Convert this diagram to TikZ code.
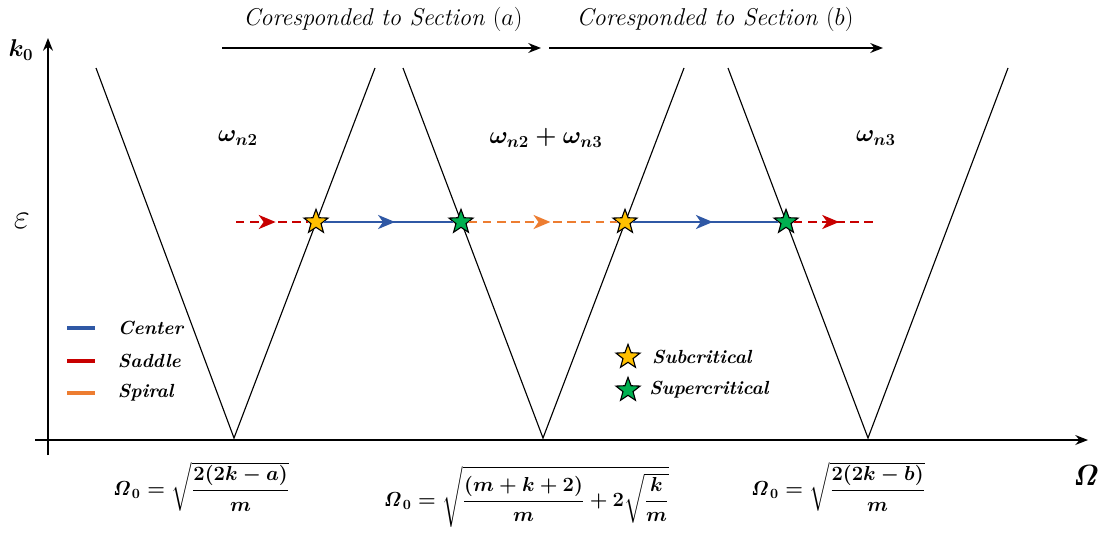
\documentclass[tikz,border=0pt]{standalone}
\usepackage{amsmath,amssymb,bm}
\usetikzlibrary{arrows.meta,positioning,shapes.geometric,decorations.markings}

\definecolor{centerblue}{RGB}{47,88,165}
\definecolor{saddlered}{RGB}{200,0,0}
\definecolor{spiralorange}{RGB}{237,125,49}
\definecolor{subyellow}{RGB}{255,192,0}
\definecolor{supgreen}{RGB}{0,176,80}

\begin{document}
\begin{tikzpicture}[
  x=0.025cm, y=-0.025cm,
  axis/.style={-{Stealth[length=9pt,width=7pt]}, line width=1.1pt},
  arm/.style={line width=0.8pt},
  flow/.style={line width=1.4pt, postaction={decorate},
    decoration={markings, mark=at position 0.55 with {\arrow{Stealth[length=12pt,width=10pt,inset=3.5pt]}}}},
  dashflow/.style={flow, dash pattern=on 6pt off 4pt},
  sectext/.style={font=\LARGE\itshape},
  modetext/.style={font=\LARGE\boldmath},
  legtext/.style={font=\fontsize{13.5}{16}\selectfont\bfseries\itshape, anchor=west},
  eqtext/.style={font=\Large\boldmath},
  starbox/.style={star, star points=5, star point ratio=2.4, minimum size=18pt, inner sep=0pt, draw=black, line width=0.8pt}
]
  \useasboundingbox (0,0) rectangle (1102,540);

  % axes
  \coordinate (ybot) at (48,455);
  \coordinate (ytop) at (48,38);
  \coordinate (xleft) at (35,440);
  \coordinate (xright) at (1088,440);
  \draw[axis] (ybot) -- (ytop);
  \draw[axis] (xleft) -- (xright);
  \node[font=\LARGE\boldmath] (k0) at (21,50) {$\bm{k_0}$};
  \node[font=\fontsize{26}{30}\selectfont] (eps) at (22,221) {$\varepsilon$};
  \node[font=\huge\boldmath] (om) at (1086,475) {$\mathit{\Omega}$};

  % the three V branches
  \coordinate (v1) at (234,438);
  \coordinate (v2) at (543,438);
  \coordinate (v3) at (868,438);
  \coordinate (t1l) at (96,68);
  \coordinate (t1r) at (375,68);
  \coordinate (t2l) at (403,68);
  \coordinate (t2r) at (684,68);
  \coordinate (t3l) at (728,68);
  \coordinate (t3r) at (1008,68);
  \draw[arm] (t1l) -- (v1) -- (t1r);
  \draw[arm] (t2l) -- (v2) -- (t2r);
  \draw[arm] (t3l) -- (v3) -- (t3r);

  \node[modetext] (w2) at (238,138) {$\omega_{n2}$};
  \node[modetext] (w23) at (546,138) {$\omega_{n2}+\omega_{n3}$};
  \node[modetext] (w3) at (876,138) {$\omega_{n3}$};

  % section arrows
  \node[sectext] (seca) at (383,19) {Coresponded to Section $(a)$};
  \node[sectext] (secb) at (715,19) {Coresponded to Section $(b)$};
  \coordinate (sa0) at (222,48);
  \coordinate (sa1) at (541,48);
  \coordinate (sb0) at (549,48);
  \coordinate (sb1) at (883,48);
  \draw[axis] (sa0) -- (sa1);
  \draw[axis] (sb0) -- (sb1);

  % path at k0 = epsilon
  \coordinate (pstart) at (236,222);
  \coordinate (pend) at (876,222);
  \node[starbox, fill=subyellow] (sub1) at (316,222) {};
  \node[starbox, fill=supgreen] (sup1) at (461,222) {};
  \node[starbox, fill=subyellow] (sub2) at (625,222) {};
  \node[starbox, fill=supgreen] (sup2) at (786,222) {};
  \draw[dashflow, saddlered] (pstart) -- (sub1);
  \draw[flow, centerblue] (sub1) -- (sup1);
  \draw[dashflow, spiralorange] (sup1) -- (sub2);
  \draw[flow, centerblue] (sub2) -- (sup2);
  \draw[dashflow, saddlered] (sup2) -- (pend);

  % legend
  \coordinate (lc0) at (67,328);
  \coordinate (lc1) at (95,328);
  \coordinate (ls0) at (67,361);
  \coordinate (ls1) at (95,361);
  \coordinate (lp0) at (67,393);
  \coordinate (lp1) at (95,393);
  \draw[centerblue, line width=3pt] (lc0) -- (lc1);
  \draw[saddlered, line width=3pt] (ls0) -- (ls1);
  \draw[spiralorange, line width=3pt] (lp0) -- (lp1);
  \node[legtext] (lcenter) at (113,328) {Center};
  \node[legtext] (lsaddle) at (113,361) {Saddle};
  \node[legtext] (lspiral) at (113,393) {Spiral};

  \node[starbox, fill=subyellow] (lsub) at (628,357) {};
  \node[starbox, fill=supgreen] (lsup) at (628,390) {};
  \node[legtext, right=8pt of lsub] (lsubtext) {Subcritical};
  \node[legtext, right=6pt of lsup] (lsuptext) {Supercritical};

  % critical frequencies
  \node[eqtext] (eqa) at (201,487) {$\mathit{\Omega}_{\,0}=\sqrt{\dfrac{2(2k-a)}{m}}$};
  \node[eqtext] (eqm) at (526,497) {$\mathit{\Omega}_{\,0}=\sqrt{\dfrac{(m+k+2)}{m}+2\sqrt{\dfrac{k}{m}}}$};
  \node[eqtext] (eqb) at (838,487) {$\mathit{\Omega}_{\,0}=\sqrt{\dfrac{2(2k-b)}{m}}$};
\end{tikzpicture}
\end{document}
